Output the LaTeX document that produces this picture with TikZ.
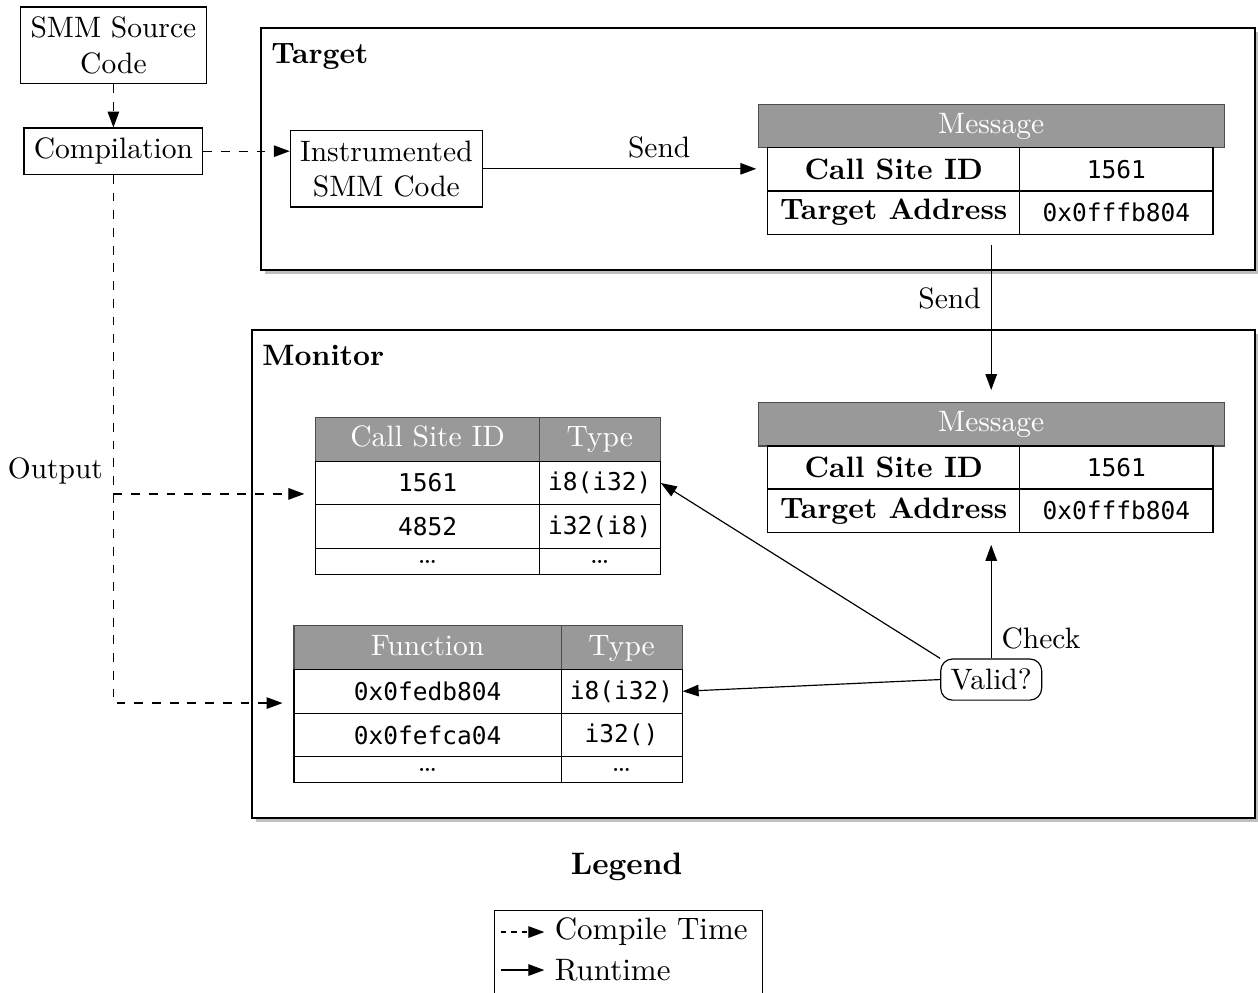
\documentclass[tikz,border=0pt]{standalone}
\usepackage{fontspec}
\setmonofont[Scale=0.83]{DejaVu Sans Mono}
\usepackage{tikz}
\usetikzlibrary{arrows.meta}

\tikzset{
  box/.style={draw, align=center},
  hcell/.style={draw=black!70, fill=gray!80, text=white, inner sep=0pt, minimum height=0.52cm, text height=7pt, text depth=2pt},
  cell/.style={draw, inner sep=0pt, minimum height=0.52cm},
  dotcell/.style={draw, inner sep=0pt, minimum height=0.31cm},
  legendfont/.style={font=\fontsize{10.5pt}{12.6pt}\selectfont},
}

\begin{document}
\begin{tikzpicture}[>={Triangle[length=5.4pt,width=3.9pt]}]
\useasboundingbox (0,0) rectangle (14.976,11.81);

\fill[gray!50] (3.157,8.545) rectangle (14.99,11.426) ;
\draw[fill=white] (3.107,8.595) rectangle (14.94,11.476) ;
\fill[gray!50] (3.05,2.021) rectangle (14.99,7.831) ;
\draw[fill=white] (3.0,2.071) rectangle (14.94,7.881) ;

\node[anchor=north west] (targetLbl) at (3.107,11.42) {\textbf{Target}};
\node[anchor=north west] (monitorLbl) at (3.0,7.82) {\textbf{Monitor}};

\node[box] (smm) at (1.35,11.27) {SMM Source\\Code};
\node[box] (comp) at (1.35,10.01) {Compilation};
\node[box] (instr) at (4.60,9.80) {Instrumented\\SMM Code};

\node[hcell, minimum width=5.55cm] (tMsg) at (11.80,10.31) {Message};
\node[cell, minimum width=3.0cm] (tId) at (10.64,9.79) {\textbf{Call Site ID}};
\node[cell, minimum width=2.30cm] (tIdV) at (13.29,9.79) {\texttt{1561}};
\node[cell, minimum width=3.0cm] (tAddr) at (10.64,9.28) {\textbf{Target Address}};
\node[cell, minimum width=2.30cm] (tAddrV) at (13.29,9.28) {\texttt{0x0fffb804}};

\node[hcell, minimum width=5.55cm] (mMsg) at (11.80,6.76) {Message};
\node[cell, minimum width=3.0cm] (mId) at (10.64,6.24) {\textbf{Call Site ID}};
\node[cell, minimum width=2.30cm] (mIdV) at (13.29,6.24) {\texttt{1561}};
\node[cell, minimum width=3.0cm] (mAddr) at (10.64,5.73) {\textbf{Target Address}};
\node[cell, minimum width=2.30cm] (mAddrV) at (13.29,5.73) {\texttt{0x0fffb804}};

\node[hcell, minimum width=2.66cm] (cIdH) at (5.09,6.58) {Call Site ID};
\node[hcell, minimum width=1.44cm] (cTypeH) at (7.14,6.58) {Type};
\node[cell, minimum width=2.66cm] (cId1) at (5.09,6.06) {\texttt{1561}};
\node[cell, minimum width=1.44cm] (cType1) at (7.14,6.06) {\texttt{i8(i32)}};
\node[cell, minimum width=2.66cm] (cId2) at (5.09,5.54) {\texttt{4852}};
\node[cell, minimum width=1.44cm] (cType2) at (7.14,5.54) {\texttt{i32(i8)}};
\node[dotcell, minimum width=2.66cm] (cId3) at (5.09,5.125) {\dots};
\node[dotcell, minimum width=1.44cm] (cType3) at (7.14,5.125) {\dots};

\node[hcell, minimum width=3.18cm] (fFunH) at (5.09,4.10) {Function};
\node[hcell, minimum width=1.44cm] (fTypeH) at (7.40,4.10) {Type};
\node[cell, minimum width=3.18cm] (fId1) at (5.09,3.58) {\texttt{0x0fedb804}};
\node[cell, minimum width=1.44cm] (fType1) at (7.40,3.58) {\texttt{i8(i32)}};
\node[cell, minimum width=3.18cm] (fId2) at (5.09,3.06) {\texttt{0x0fefca04}};
\node[cell, minimum width=1.44cm] (fType2) at (7.40,3.06) {\texttt{i32()}};
\node[dotcell, minimum width=3.18cm] (fId3) at (5.09,2.645) {\dots};
\node[dotcell, minimum width=1.44cm] (fType3) at (7.40,2.645) {\dots};

\node[draw, rounded corners] (valid) at (11.80,3.72) {Valid?};

\coordinate (outA) at (1.35,5.93);
\coordinate (outB) at (1.35,3.44);

\draw[dashed,->] (smm) -- (comp);
\draw[dashed,->] (comp.east) -- (comp.east -| instr.west);
\draw[dashed,->,shorten >=0.13cm] (comp.south) -- node[left,pos=0.56] {Output} (outB) -- (outB -| fId1.west);
\draw[dashed,->,shorten >=0.13cm] (outA) -- (outA -| cId1.west);

\draw[->,shorten >=0.13cm] (instr.east) -- node[above,pos=0.62] {Send} (instr.east -| tId.west);
\draw[->,shorten <=0.12cm,shorten >=0.14cm] (tMsg.center |- tAddr.south) -- node[left,pos=0.38] {Send} (mMsg.north);
\draw[->,shorten >=0.14cm] (valid.north) -- node[right,pos=0.16] {Check} (valid.north |- mAddr.south);
\draw[->] (valid.north west) -- (cType1.east);
\draw[->] (valid.west) -- (fType1.east);

\node[legendfont] (legendTitle) at (7.46,1.49) {\textbf{Legend}};
\node[draw, anchor=north west, minimum width=3.19cm, minimum height=1.1cm] (legend) at (5.88,0.976) {};
\node[legendfont, anchor=west] (ctime) at (6.48,0.714) {Compile Time};
\node[legendfont, anchor=west] (rtime) at (6.48,0.262) {Runtime};
\coordinate (ctS) at (5.96,0.714);
\coordinate (rtS) at (5.96,0.262);
\draw[dash pattern=on 1.8pt off 1.8pt,->] (ctS) -- (ctime.west);
\draw[->] (rtS) -- (rtime.west);
\end{tikzpicture}
\end{document}
